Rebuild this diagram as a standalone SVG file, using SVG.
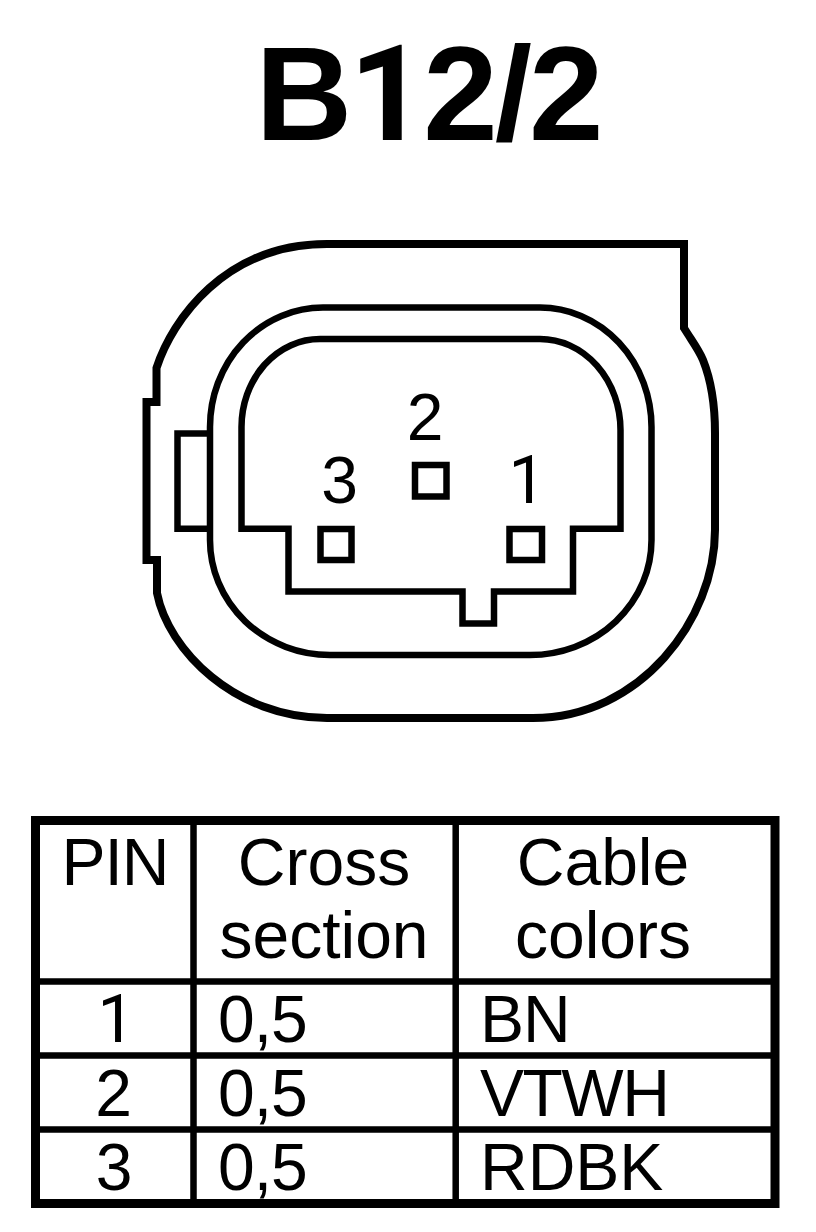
<svg xmlns="http://www.w3.org/2000/svg" width="816" height="1232" viewBox="0 0 816 1232">
<style>
.l{fill:none;stroke:#000;stroke-width:6.5;stroke-linejoin:miter}
.o{fill:none;stroke:#000;stroke-width:8;stroke-linejoin:miter}
.g{fill:none;stroke:#000;stroke-width:6.5}
.t{font-family:"Liberation Sans",Arial,sans-serif;fill:#000;font-size:66px}
.m{text-anchor:middle}
.r{font-family:Roboto,"Liberation Sans",sans-serif}
.n{letter-spacing:-1px}
</style>
<rect width="816" height="1232" fill="#fff"/>
<text x="255.500" y="140" font-family="Liberation Sans,Arial,sans-serif" font-weight="bold" font-size="134" letter-spacing="-3">B<tspan class="r">1</tspan>2/2</text>
<g id="connector">
<path class="o" d="M684 244V328C692 341 699 350 703 360C711 380 715 405 715 433V530C715 620 640 718 533 718H327C235 718 168 650 157 593V560H146.500V402H156.500V368C172 320 225 244 327 244Z"/>
<path class="l" d="M210 433.500H177.500V528.800H210"/>
<path class="l" d="M323 307.500H540A111.500 119.500 0 0 1 651.500 427V540A121.500 115 0 0 1 530 655H330A120 115 0 0 1 210 540V427A113 119.500 0 0 1 323 307.500Z"/>
<path class="l" d="M320 339H540A80.500 91 0 0 1 620.500 430V528.700H573V591.500H494V623.500H462.500V591.500H288.500V528.700H241.500V427A78.500 88 0 0 1 320 339Z"/>
<rect class="g" x="415" y="465" width="31.500" height="31.500"/>
<rect class="g" x="320.500" y="529" width="31" height="31"/>
<rect class="g" x="509.500" y="529" width="32.500" height="31"/>
<text class="t m" x="425" y="440">2</text>
<text class="t m" x="339.500" y="503">3</text>
<text class="t m r" x="527" y="503">1</text>
</g>
<g id="table">
<rect x="35.500" y="820.500" width="739.500" height="383" fill="none" stroke="#000" stroke-width="9"/>
<path class="g" d="M193.500 820V1203M455.700 820V1203M35 981.500H775M35 1055.500H775M35 1129.500H775"/>
<text class="t m n" x="115" y="885">PIN</text>
<text class="t m" x="324" y="885">Cross</text>
<text class="t m" x="324" y="958">section</text>
<text class="t m" x="603" y="885">Cable</text>
<text class="t m" x="603" y="958">colors</text>
<text class="t m r" x="116" y="1042">1</text>
<text class="t m" x="113.500" y="1116">2</text>
<text class="t m" x="114" y="1190">3</text>
<text class="t n" x="218" y="1042">0,5</text>
<text class="t n" x="218" y="1116">0,5</text>
<text class="t n" x="218" y="1190">0,5</text>
<text class="t n" x="480" y="1042">BN</text>
<text class="t" x="480" y="1116" letter-spacing="-1.5">VTWH</text>
<text class="t" x="480" y="1190">RDBK</text>
</g>
</svg>
